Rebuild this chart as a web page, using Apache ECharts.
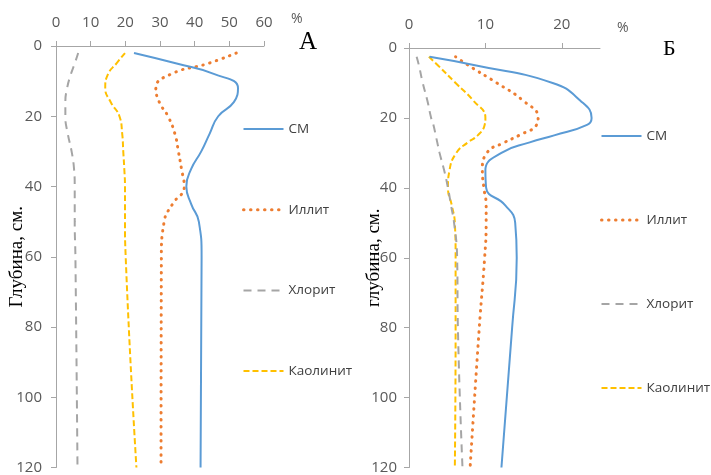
<!DOCTYPE html>
<html>
<head>
<meta charset="utf-8">
<script src="https://cdn.jsdelivr.net/npm/echarts@6/dist/echarts.min.js"></script>
<style>
html,body{margin:0;padding:0;background:#fff;}
#c{width:711px;height:475px;}
</style>
</head>
<body>
<div id="c"></div>
<script>
// Panel А
const depthA = [2, 5, 8, 12, 16, 20, 25, 30, 35, 40, 45, 50, 60, 120];
const smA    = [22.5, 34.8, 45.7, 52.5, 51.3, 46.8, 44.3, 41.9, 39, 37.6, 39, 41.2, 42, 41.7];
const illA   = [52, 43.8, 33.2, 28.8, 29.8, 32.3, 34.3, 35.3, 36.2, 37, 33.6, 31.2, 30.4, 30.3];
const chlA   = [6.4, 5.4, 4.3, 3.2, 2.7, 2.7, 3.4, 4.5, 5.2, 5.4, 5.4, 5.4, 5.6, 6.2];
const kaoA   = [19.9, 17.4, 15.0, 14.2, 15.8, 18.3, 19.1, 19.4, 19.7, 19.9, 19.9, 19.9, 20.1, 23.2];
// Panel Б
const depthB = [2.5, 5, 10, 15, 20, 22, 25, 27, 30, 35, 40, 45, 50, 60, 80, 120];
const smB    = [2.7, 8.8, 18.8, 22.4, 23.9, 23.3, 19.0, 15.8, 12.1, 10.0, 10.1, 12.6, 13.9, 14.1, 13.5, 12.1];
const illB   = [6.1, 7.8, 11.5, 14.9, 16.9, 16.7, 14.4, 12.5, 10.2, 9.6, 9.8, 10.1, 10.1, 9.9, 9.2, 8.0];
const chlB   = [1.0, 1.3, 1.8, 2.4, 2.9, 3.2, 3.5, 3.7, 4.0, 4.6, 5.1, 5.5, 5.9, 6.3, 6.4, 7.0];
const kaoB   = [2.6, 3.8, 6.1, 8.4, 10.0, 9.9, 9.0, 7.7, 6.2, 5.3, 5.1, 5.6, 6.0, 6.1, 6.1, 6.0];
// axis ticks
const xTicksA = [0, 10, 20, 30, 40, 50, 60];
const xTicksB = [0, 10, 20];
const names = ['СМ', 'Иллит', 'Хлорит', 'Каолинит'];

const colors = ['#5B9BD5', '#ED7D31', '#A5A5A5', '#FFC000'];
const styles = [
  {width: 2, type: 'solid'},
  {width: 3, type: [0.5, 6.5], cap: 'round'},
  {width: 2, type: [8, 6]},
  {width: 2, type: [6, 3]}
];
const font = 'Open Sans, Liberation Sans, sans-serif';
const axisCol = '#A6A6A6';
const labelCol = '#595959';

function pairs(vals, depths){ return vals.map((v,i)=>[v, depths[i]]); }

const seriesA = [smA, illA, chlA, kaoA];
const seriesB = [smB, illB, chlB, kaoB];
const series = [];
seriesA.forEach((vals,i)=>{
  series.push({name:'А:'+names[i], type:'line', xAxisIndex:0, yAxisIndex:0,
    data:pairs(vals, depthA), smooth:0.5, symbol:'none', color:colors[i],
    lineStyle:Object.assign({color:colors[i]}, styles[i]), z: 10-i});
});
seriesB.forEach((vals,i)=>{
  series.push({name:'Б:'+names[i], type:'line', xAxisIndex:1, yAxisIndex:1,
    data:pairs(vals, depthB), smooth:0.5, symbol:'none', color:colors[i],
    lineStyle:Object.assign({color:colors[i]}, styles[i]), z: 10-i});
});

function xAxis(grid, max, ticks, margin){
  return {type:'value', gridIndex:grid, position:'top', min:0, max:max, interval:10,
    axisLine:{show:true, onZero:false, lineStyle:{color:axisCol, width:1}},
    axisTick:{show:true, length:5, lineStyle:{color:axisCol}, customValues:ticks},
    axisLabel:{color:labelCol, fontFamily:font, fontSize:15, margin:margin, customValues:ticks},
    splitLine:{show:false}};
}
function yAxis(grid, name, gap, margin){
  return {type:'value', gridIndex:grid, inverse:true, min:0, max:120, interval:20,
    name:name, nameLocation:'middle', nameGap:gap, nameRotate:90, nameMoveOverlap:false,
    nameTextStyle:{fontFamily:'Liberation Serif, serif', fontSize:19, color:'#000'},
    axisLine:{show:true, onZero:false, lineStyle:{color:axisCol, width:1}},
    axisTick:{show:true, length:5, lineStyle:{color:axisCol}},
    axisLabel:{color:labelCol, fontFamily:font, fontSize:15, margin:margin},
    splitLine:{show:false}};
}

function legendData(prefix){
  return names.map((n,i)=>({name:prefix+n, lineStyle:Object.assign({color:colors[i]}, styles[i])}));
}
const legendBase = {orient:'vertical', itemWidth:40, itemHeight:14, padding:0,
  formatter:n=>n.split(':')[1],
  itemStyle:{color:'rgba(0,0,0,0)', borderWidth:0, borderColor:'rgba(0,0,0,0)'},
  textStyle:{fontFamily:font, fontSize:13.5, color:'#404040', lineHeight:14}, selectedMode:false};

const chart = echarts.init(document.getElementById('c'), null, {renderer:'canvas'});
chart.setOption({
  backgroundColor:'#fff',
  animation:false,
  grid:[
    {left:56, top:46, width:208, height:422},
    {left:409, top:48, width:191, height:420}
  ],
  xAxis:[xAxis(0, 60, xTicksA, 16), xAxis(1, 25, xTicksB, 16)],
  yAxis:[yAxis(0, 'Глубина, см.', 29, 14), yAxis(1, 'глубина, см.', 25, 12)],
  legend:[
    Object.assign({data:legendData('А:'), left:242, top:122, itemGap:66.7}, legendBase),
    Object.assign({data:legendData('Б:'), left:600, top:129, itemGap:70}, legendBase)
  ],
  graphic:[
    {type:'text', left:291, top:12, style:{text:'%', font:'14px '+font, fill:labelCol}},
    {type:'text', left:617, top:21, style:{text:'%', font:'14px '+font, fill:labelCol}},
    {type:'text', left:299, top:30, style:{text:'А', font:'25px Liberation Serif, serif', fill:'#000'}},
    {type:'text', left:663, top:38, style:{text:'Б', font:'22px Liberation Serif, serif', fill:'#000'}}
  ],
  series:series
});
</script>
</body>
</html>
